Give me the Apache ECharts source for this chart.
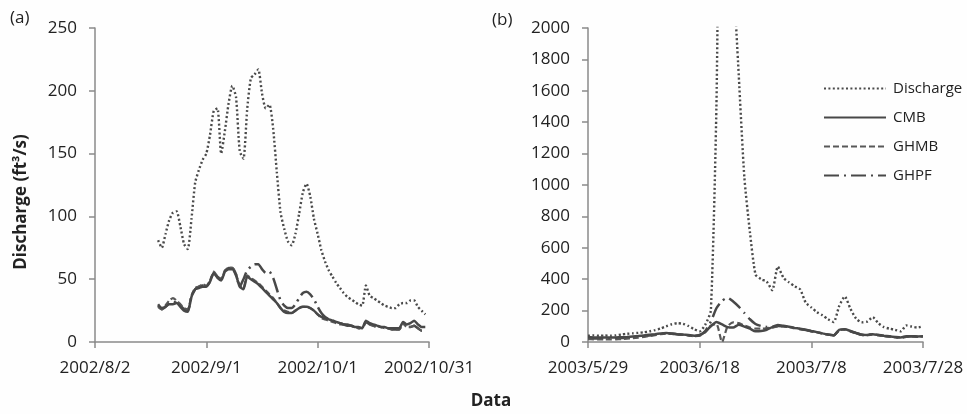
<!DOCTYPE html>
<html>
<head>
<meta charset="utf-8">
<script src="https://cdn.jsdelivr.net/npm/echarts@6/dist/echarts.min.js"></script>
<style>
  html, body { margin: 0; padding: 0; background: #fefefe; }
  #chart { width: 967px; height: 414px; }
</style>
</head>
<body>
<div id="chart"></div>
<script>
// tick labels (day offset from first tick)
const leftTicks = ['2002/8/2', '2002/9/1', '2002/10/1', '2002/10/31'];
const rightTicks = ['2003/5/29', '2003/6/18', '2003/7/8', '2003/7/28'];

// (a) daily values, first value on day 17 after 2002/8/2
const leftStart = 17;
const leftDischarge = [81, 75, 86, 97, 103, 104, 92, 78, 74, 98, 127, 137, 145, 150, 165, 184, 186, 150, 168,
  190, 204, 195, 152, 146, 185, 210, 213, 217, 198, 186, 189, 170, 135, 103, 90, 80, 77, 86, 102, 119, 126,
  116, 98, 86, 73, 64, 57, 52, 47, 43, 39, 36, 34, 32, 30, 29, 45, 37, 35, 33, 31, 29, 28, 27, 27, 30, 31,
  31, 33, 33, 28, 25, 22];
const leftCMB = [30, 27, 28, 30, 30, 31, 28, 25, 24, 36, 42, 43, 44, 44, 48, 55, 51, 49, 56, 58, 58, 53, 44,
  42, 52, 50, 48, 46, 43, 40, 37, 34, 31, 27, 24, 23, 23, 25, 27, 28, 28, 27, 25, 22, 20, 19, 18, 17, 16,
  15, 14, 14, 13, 12, 12, 11, 17, 15, 14, 13, 12, 12, 11, 11, 11, 11, 16, 14, 15, 17, 14, 12, 12];
const leftGHMB = [28, 26, 29, 33, 35, 33, 30, 27, 26, 37, 43, 44, 46, 45, 49, 56, 52, 50, 57, 59, 59, 54, 45,
  43, 53, 51, 49, 47, 44, 41, 38, 35, 31, 27, 25, 24, 23, 25, 27, 28, 28, 27, 25, 22, 19, 18, 17, 16, 15,
  14, 14, 13, 13, 12, 11, 11, 16, 14, 13, 12, 12, 11, 11, 10, 10, 10, 15, 12, 12, 13, 11, 9, 9];
const leftGHPF = [29, 26, 28, 31, 32, 31, 29, 26, 25, 36, 42, 44, 45, 45, 48, 55, 52, 50, 56, 59, 59, 54, 44,
  50, 57, 60, 62, 62, 58, 55, 56, 51, 42, 33, 29, 27, 27, 30, 35, 39, 40, 38, 34, 28, 23, 20, 18, 17, 16,
  15, 14, 13, 13, 12, 11, 11, 16, 14, 13, 12, 12, 11, 11, 10, 10, 10, 15, 12, 12, 13, 11, 9, 9];

// (b) daily values from 2003/5/29
const rightStart = 0;
const rightDischarge = [40, 42, 40, 41, 40, 42, 48, 52, 55, 58, 62, 68, 76, 86, 100, 113, 120, 116, 102, 82,
  68, 110, 200, 1500, 4000, 3800, 2400, 1700, 1050, 700, 430, 400, 385, 330, 480, 410, 380, 355, 335, 250,
  220, 190, 170, 145, 127, 230, 290, 212, 150, 125, 130, 158, 120, 95, 85, 78, 68, 105, 98, 92, 100];
const rightCMB = [30, 29, 28, 28, 28, 29, 30, 32, 35, 38, 42, 46, 50, 54, 57, 54, 50, 47, 44, 40, 43, 65, 100,
  127, 112, 95, 92, 110, 98, 85, 68, 70, 78, 95, 108, 103, 97, 90, 84, 78, 70, 63, 55, 48, 43, 78, 82, 70,
  58, 47, 45, 50, 45, 40, 36, 32, 29, 36, 37, 35, 36];
const rightGHMB = [18, 17, 16, 17, 16, 17, 19, 21, 24, 28, 33, 38, 44, 50, 54, 52, 48, 45, 41, 37, 40, 62, 105,
  115, 0, 100, 125, 120, 105, 92, 85, 85, 88, 92, 100, 100, 95, 88, 82, 76, 68, 61, 53, 46, 41, 75, 80, 68,
  56, 45, 43, 48, 43, 38, 34, 30, 27, 33, 35, 33, 34];
const rightGHPF = [24, 23, 22, 22, 22, 23, 25, 27, 30, 33, 37, 42, 47, 52, 55, 53, 49, 46, 42, 38, 45, 70, 130,
  215, 262, 282, 258, 225, 185, 145, 115, 102, 96, 95, 102, 100, 95, 88, 82, 76, 69, 62, 54, 47, 42, 76, 80,
  68, 57, 46, 44, 49, 44, 39, 35, 31, 28, 34, 36, 34, 35];

const names = ['Discharge', 'CMB', 'GHMB', 'GHPF'];

const ink = '#222';
const lineColor = '#484848';
const font = 'Open Sans';

const styles = {
  Discharge: { color: '#4a4a4a', width: 2.4, type: [2, 2.4] },
  CMB: { color: lineColor, width: 2.5, type: 'solid' },
  GHMB: { color: '#585858', width: 2.2, type: [6, 3] },
  GHPF: { color: lineColor, width: 2.5, type: [15, 5, 2, 5] }
};

function pairs(start, values) {
  return values.map((v, i) => [start + i, v]);
}

function makeSeries(idx, start, arrays) {
  return names.map((name, k) => ({
    name: name,
    type: 'line',
    xAxisIndex: idx,
    yAxisIndex: idx,
    data: pairs(start, arrays[k]),
    showSymbol: false,
    symbol: 'none',
    smooth: 0.2,
    lineStyle: styles[name],
    itemStyle: { color: styles[name].color },
    z: 10 - k
  }));
}

const axisLine = { show: true, lineStyle: { color: '#8a8a8a', width: 1.5 } };
const axisTick = { show: true, inside: false, length: 6, lineStyle: { color: '#8a8a8a', width: 1.5 } };
const labelStyle = { color: ink, fontSize: 17, fontFamily: font };

const chart = echarts.init(document.getElementById('chart'));

chart.setOption({
  backgroundColor: '#fefefe',
  animation: false,
  grid: [
    { left: 95, top: 28, width: 334, height: 314 },
    { left: 588, top: 28, width: 335, height: 314 }
  ],
  xAxis: [
    {
      gridIndex: 0, type: 'value', min: 0, max: 90, interval: 30,
      axisLine: axisLine, axisTick: axisTick, splitLine: { show: false },
      axisLabel: Object.assign({ margin: 18, formatter: v => leftTicks[v / 30] }, labelStyle)
    },
    {
      gridIndex: 1, type: 'value', min: 0, max: 60, interval: 20,
      axisLine: axisLine, axisTick: axisTick, splitLine: { show: false },
      axisLabel: Object.assign({ margin: 18, formatter: v => rightTicks[v / 20] }, labelStyle)
    }
  ],
  yAxis: [
    {
      gridIndex: 0, type: 'value', min: 0, max: 250, interval: 50,
      axisLine: axisLine, axisTick: axisTick, splitLine: { show: false },
      axisLabel: Object.assign({ margin: 18, formatter: v => String(v) }, labelStyle)
    },
    {
      gridIndex: 1, type: 'value', min: 0, max: 2000, interval: 200,
      axisLine: axisLine, axisTick: axisTick, splitLine: { show: false },
      axisLabel: Object.assign({ margin: 18, formatter: v => String(v) }, labelStyle)
    }
  ],
  legend: {
    data: names,
    orient: 'vertical',
    left: 823,
    top: 81,
    itemWidth: 62,
    itemHeight: 14,
    itemGap: 14,
    padding: 0,
    itemStyle: { opacity: 0 },
    textStyle: { color: ink, fontSize: 15, fontFamily: font, padding: [0, 0, 0, 2] }
  },
  graphic: [
    { type: 'text', left: 10, top: 10, style: { text: '(a)', fill: ink, font: '17px "Open Sans"' } },
    { type: 'text', left: 492, top: 12, style: { text: '(b)', fill: ink, font: '17px "Open Sans"' } },
    {
      type: 'text', x: 21, y: 202, rotation: Math.PI / 2,
      style: { text: 'Discharge (ft³/s)', fill: ink, font: 'bold 17px "Open Sans"', align: 'center', verticalAlign: 'middle' }
    },
    {
      type: 'text', x: 491, y: 401,
      style: { text: 'Data', fill: ink, font: 'bold 17px "Open Sans"', align: 'center', verticalAlign: 'middle' }
    }
  ],
  series: [].concat(
    makeSeries(0, leftStart, [leftDischarge, leftCMB, leftGHMB, leftGHPF]),
    makeSeries(1, rightStart, [rightDischarge, rightCMB, rightGHMB, rightGHPF])
  )
});
</script>
</body>
</html>
